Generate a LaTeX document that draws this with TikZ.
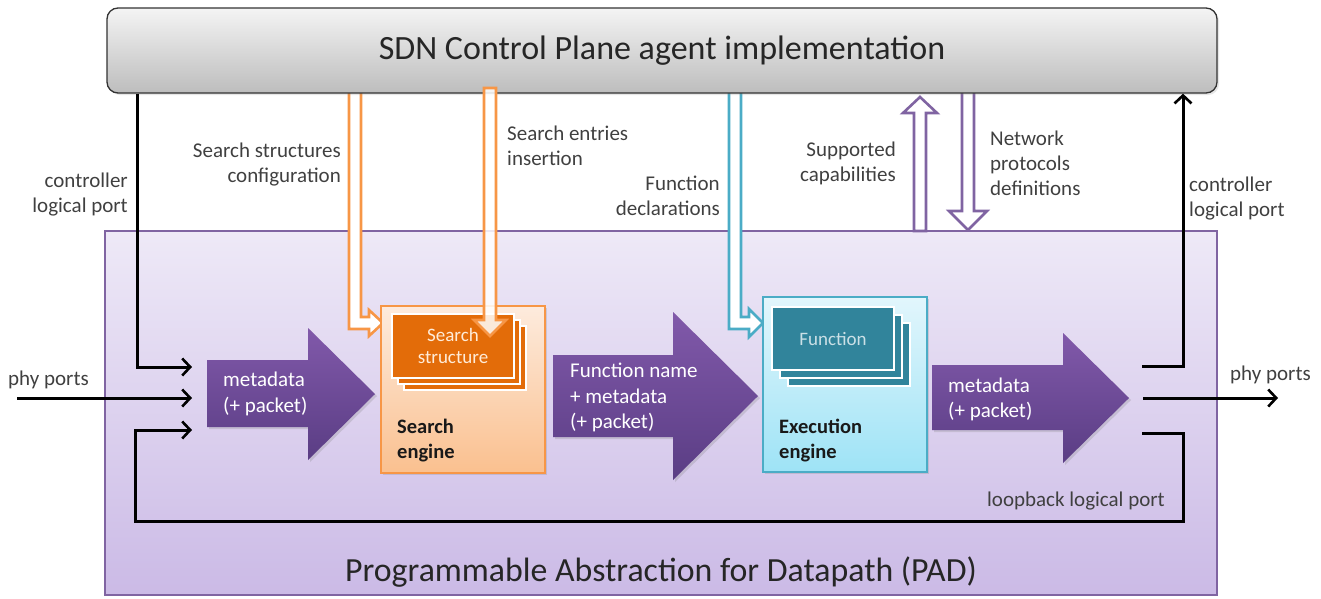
\documentclass[tikz,border=0pt]{standalone}
\usepackage{fontspec}
\setmainfont{Carlito}
\usetikzlibrary{arrows.meta,shadows}
\definecolor{lblgray}{HTML}{404040}
\definecolor{sdnTop}{HTML}{F4F4F4}
\definecolor{sdnBot}{HTML}{BDBDBD}
\definecolor{padTop}{HTML}{EEE9F7}
\definecolor{padBot}{HTML}{CBBAE6}
\definecolor{padLine}{HTML}{8064A2}
\definecolor{arrTop}{HTML}{8159AA}
\definecolor{arrBot}{HTML}{5A3D84}
\definecolor{orLine}{HTML}{F79646}
\definecolor{orTop}{HTML}{FDEBDD}
\definecolor{orBot}{HTML}{FAC08F}
\definecolor{orCard}{HTML}{E36C09}
\definecolor{blLine}{HTML}{4BACC6}
\definecolor{blTop}{HTML}{E2F6FC}
\definecolor{blBot}{HTML}{9EE3F6}
\definecolor{blCard}{HTML}{31849B}
\tikzset{
  lbl/.style={inner sep=0pt, text=lblgray, font=\fontsize{21}{25}\selectfont},
  wlbl/.style={inner sep=0pt, text=white, font=\fontsize{21}{25.5}\selectfont, align=left, anchor=west},
  blk/.style={line width=3pt, draw=black, -{Straight Barb[length=8pt,width=17pt,line width=2.6pt]}},
  hollow/.style={line width=2.6pt, fill=white, line join=miter},
  fatarrow/.style={top color=arrTop, bottom color=arrBot, drop shadow={opacity=0.25, shadow xshift=2pt, shadow yshift=-2pt}},
  ocard/.style={fill=orCard, draw=white, line width=1.5pt},
  bcard/.style={fill=blCard, draw=white, line width=1.5pt},
}
\begin{document}
\begin{tikzpicture}[x=1pt,y=-1pt]
\useasboundingbox (0,0) rectangle (1321,598);

% PAD box
\path[top color=padTop, bottom color=padBot, draw=padLine, line width=1.2pt]
  (105,231) rectangle (1217,595);
\node (pad) at (661,572) [inner sep=0pt, font=\fontsize{33.8}{38}\selectfont, text=black!85] {Programmable Abstraction for Datapath (PAD)};

% hollow connectors from the control plane
\filldraw[hollow, draw=orLine] (349,88) -- (349,329) -- (369,329) -- (369,336) -- (383,323) -- (369,310) -- (369,317) -- (361,317) -- (361,88) -- cycle;
\filldraw[hollow, draw=blLine] (729,88) -- (729,329) -- (749,329) -- (749,337) -- (763,323) -- (749,309) -- (749,317) -- (741,317) -- (741,88) -- cycle;
\filldraw[hollow, draw=padLine] (914,231) -- (914,113) -- (903,113) -- (920,97) -- (937,113) -- (926,113) -- (926,231) -- cycle;
\filldraw[hollow, draw=padLine] (962,88) -- (962,211) -- (949,211) -- (968,230) -- (987,211) -- (974,211) -- (974,88) -- cycle;

% SDN control plane box
\node (sdn) at (662,50.5) [draw=black!80, line width=1.3pt, rounded corners=11pt,
  top color=sdnTop, bottom color=sdnBot, minimum width=1110pt, minimum height=85pt,
  font=\fontsize{34}{38}\selectfont, text=black!85,
  drop shadow={opacity=0.2, shadow xshift=2pt, shadow yshift=-2pt}] {SDN Control Plane agent implementation};

% big purple arrows
\path[fatarrow] (207,360) -- (308,360) -- (308,328) -- (375,394) -- (308,460) -- (308,427) -- (207,427) -- cycle;
\node (md1) [wlbl] at (223,394) {metadata\\(+ packet)};
\path[fatarrow] (553,355) -- (673,355) -- (673,312) -- (758,396) -- (673,480) -- (673,437) -- (553,437) -- cycle;
\node (md2) [wlbl] at (570,397.5) {Function name\\+ metadata\\(+ packet)};
\path[fatarrow] (932,365) -- (1063,365) -- (1063,333) -- (1129,398) -- (1063,463) -- (1063,430) -- (932,430) -- cycle;
\node (md3) [wlbl] at (948,399.5) {metadata\\(+ packet)};

% search engine
\node (se) at (463,389.5) [minimum width=164pt, minimum height=167pt, draw=orLine, line width=1.3pt,
  top color=orTop, bottom color=orBot, drop shadow={opacity=0.25, shadow xshift=2pt, shadow yshift=-2pt}] {};
\draw[ocard] (404,326) rectangle (526,390);
\draw[ocard] (398,320) rectangle (520,384);
\draw[ocard] (392,314) rectangle (514,378);
\node (ss) at (453,346) [inner sep=0pt, align=center, text=white!85!orange, font=\fontsize{19}{22}\selectfont] {Search\\structure};
\node (setxt) at (397,440.5) [anchor=west, inner sep=0pt, align=left, font=\bfseries\fontsize{20.5}{25}\selectfont, text=black!90] {Search\\engine};
\filldraw[hollow, draw=orLine, fill opacity=0.85] (484,88) -- (484,320) -- (474,320) -- (490,336) -- (506,320) -- (496,320) -- (496,88) -- cycle;

% execution engine
\node (ee) at (845,384.5) [minimum width=164pt, minimum height=175pt, draw=blLine, line width=1.3pt,
  top color=blTop, bottom color=blBot, drop shadow={opacity=0.25, shadow xshift=2pt, shadow yshift=-2pt}] {};
\draw[bcard] (788,323) rectangle (910,386);
\draw[bcard] (780,315) rectangle (902,378);
\draw[bcard] (772,307) rectangle (894,370);
\node (fn) at (833,338.5) [inner sep=0pt, text=white!75!blCard, font=\fontsize{19}{22}\selectfont] {Function};
\node (eetxt) at (779,440.5) [anchor=west, inner sep=0pt, align=left, font=\bfseries\fontsize{20.5}{25}\selectfont, text=black!90] {Execution\\engine};

% black port connectors
\coordinate (inA) at (192,367);
\coordinate (inB) at (192,398);
\coordinate (inC) at (192,430);
\coordinate (phyL) at (17,398);
\coordinate (outA) at (1142,366);
\coordinate (outB) at (1143,398);
\coordinate (outC) at (1142,433);
\coordinate (phyR) at (1278,398);
\draw[blk] (sdn.south -| 137,0) |- (inA);
\draw[blk] (phyL) -- (inB);
\draw[blk] (outC) -- (1183,433) -- (1183,521) -- (135,521) |- (inC);
\draw[blk] (outA) -| (sdn.south -| 1183,0);
\draw[blk] (outB) -- (phyR);

% labels
\node (lctrlL) [lbl, anchor=east, align=right] at (128,194.5) {controller\\logical port};
\node (lctrlR) [lbl, anchor=west, align=left] at (1189,199) {controller\\logical port};
\node (lssc) [lbl, anchor=east, align=right] at (341,164.5) {Search structures\\configuration};
\node (lsei) [lbl, anchor=west, align=left] at (507,145.5) {Search entries\\insertion};
\node (lfd) [lbl, anchor=east, align=right] at (720,195.5) {Function\\declarations};
\node (lsup) [lbl, anchor=east, align=right] at (896,163.5) {Supported\\capabilities};
\node (lnet) [lbl, anchor=west, align=left] at (990,163) {Network\\protocols\\definitions};
\node (lloop) [lbl, anchor=east] at (1165,501) {loopback logical port};
\node (lphyL) [lbl, anchor=west] at (8,380) {phy ports};
\node (lphyR) [lbl, anchor=west] at (1230,375) {phy ports};
\end{tikzpicture}
\end{document}
